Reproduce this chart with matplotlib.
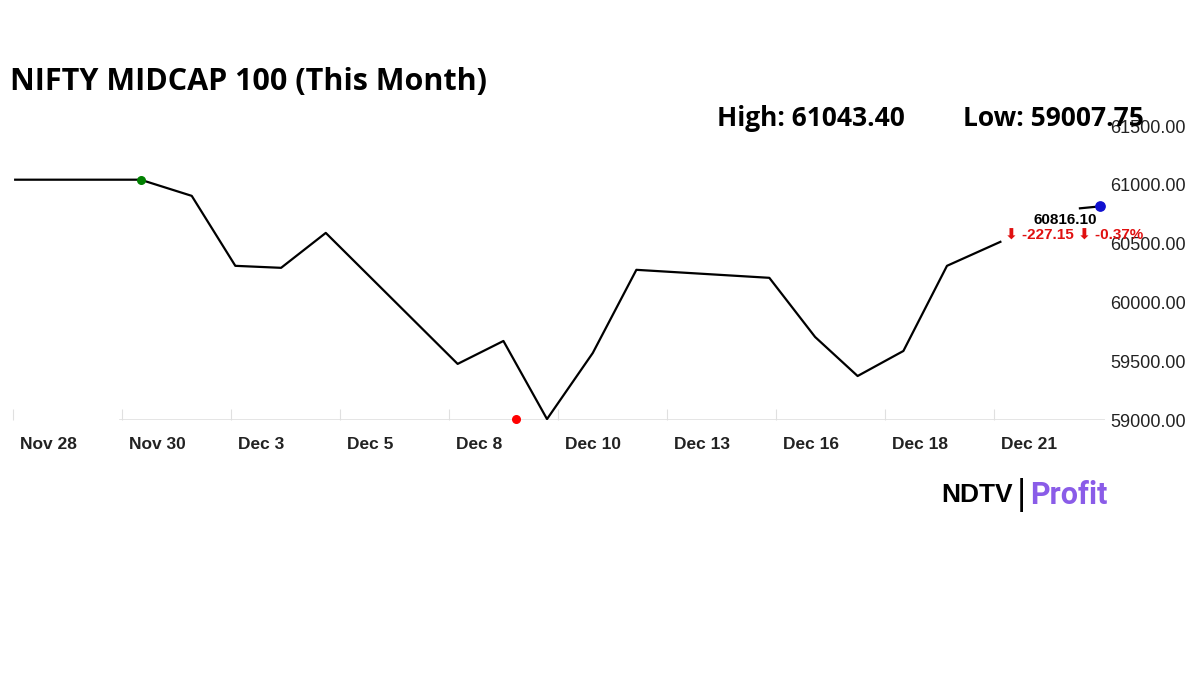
import matplotlib
matplotlib.use("Agg")
import matplotlib.pyplot as plt

# x positions in tick units (tick i = label i)
xs = [0.02, 1.17, 1.64, 2.04, 2.46, 2.87, 4.08, 4.50, 4.90, 5.32, 5.72, 6.94, 7.36, 7.75, 8.17, 8.57, 9.06]
vals = [61043.40, 61043.40, 60906, 60311, 60294, 60591, 59477, 59672, 59007.75, 59570, 60277, 60209,
        59706, 59374, 59587, 60311, 60515]
last_x = [9.79, 9.97]
last_vals = [60800, 60816.10]
tick_labels = ["Nov 28", "Nov 30", "Dec 3", "Dec 5", "Dec 8", "Dec 10", "Dec 13", "Dec 16", "Dec 18", "Dec 21"]
yticks = [59000, 59500, 60000, 60500, 61000, 61500]
high_x, low_x = 1.17, 4.62

fig = plt.figure(figsize=(12, 6.75), dpi=100)
ax = fig.add_axes([10/1200, 1-420/675, 1095/1200, 294/675])
ax.plot(xs, vals, color="black", lw=1.6)
ax.plot(last_x, last_vals, color="black", lw=1.6)
ax.scatter([last_x[-1]], [last_vals[-1]], color="#1010d0", s=45, zorder=5)
ax.scatter([high_x], [61043.40], color="green", s=30, zorder=5)
ax.scatter([low_x], [59007.75], color="red", s=30, zorder=5, clip_on=False)
ax.set_xlim(-0.0275, 10.02)
ax.set_ylim(59000, 61500)
for s in ax.spines.values():
    s.set_visible(False)
ax.axhline(59000, color="#e0e0e0", lw=1.2, xmin=0.1, zorder=0)
ax.set_xticks(range(len(tick_labels)))
ax.set_xticklabels([])
ax.tick_params(axis="x", length=8, color="#e0e0e0", direction="in")
for i, lab in enumerate(tick_labels):
    ax.annotate(lab, (i, 59000), xytext=(5, -12), textcoords="offset points", ha="left", va="top",
                fontsize=12.5, fontweight="bold", color="#222222", family="Liberation Sans",
                annotation_clip=False)
ax.yaxis.tick_right()
ax.set_yticks(yticks)
ax.set_yticklabels([f"{v:.2f}" for v in yticks], fontsize=13, color="#222222", family="Liberation Sans")
ax.tick_params(axis="y", length=0, pad=4)

ax.text(9.95, 60700, "60816.10", ha="right", va="center", fontsize=11, fontweight="bold",
        family="Liberation Sans")
ax.text(9.10, 60570, "\u2b07 -227.15 \u2b07 -0.37%", ha="left", va="center", fontsize=11, fontweight="bold",
        color="#e01010", family=["Liberation Sans", "DejaVu Sans"])

fig.text(10/1200, 1-82/675, "NIFTY MIDCAP 100 (This Month)", fontsize=22, fontweight="bold",
         family="Open Sans", va="center")
fig.text(717/1200, 1-118/675, "High: 61043.40", fontsize=19, fontweight="bold", family="Open Sans", va="center")
fig.text(963/1200, 1-118/675, "Low: 59007.75", fontsize=19, fontweight="bold", family="Open Sans", va="center")

fig.text(1013/1200, 1-495/675, "NDTV", fontsize=19, fontweight="bold", family="Liberation Sans",
         va="center", ha="right")
fig.text(1021/1200, 1-495/675, "|", fontsize=24, family="DejaVu Sans", va="center", ha="center")
fig.text(1030/1200, 1-495/675, "Profit", fontsize=22, fontweight="bold", family="Roboto",
         va="center", color="#8a5ce8")
fig.savefig("out.png", dpi=100)
